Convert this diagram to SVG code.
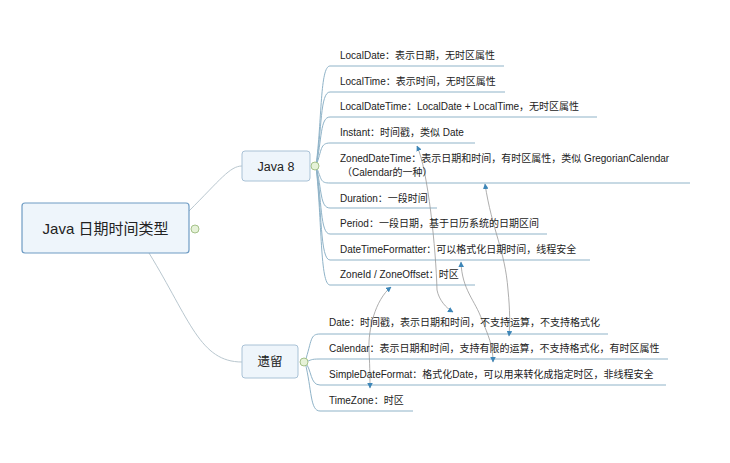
<svg xmlns="http://www.w3.org/2000/svg" width="730" height="463" viewBox="0 0 730 463">
<style>
text{font-family:"Liberation Sans","Noto Sans CJK SC",sans-serif;fill:#222}
.it{font-size:10px}
.br{fill:none;stroke:#8fb3c8;stroke-width:1}
.tr{fill:none;stroke:#b9c7cf;stroke-width:1}
.rel{fill:none;stroke:#999;stroke-width:0.8}
.box{fill:#eef5fb;stroke:#a9c2d6;stroke-width:1}
.knob{fill:#e6f2d8;stroke:#a5c28a;stroke-width:1}
</style>
<defs>
<marker id="ah" viewBox="0 0 10 10" refX="9" refY="5" markerWidth="7" markerHeight="7" orient="auto-start-reverse"><path d="M0,0L10,5L0,10z" fill="#3d86b8"/></marker>
</defs>
<rect width="730" height="463" fill="#fff"/>
<g id="connectors">
<path class="tr" d="M189,211 C220,180 230,166 242,166"/>
<path class="tr" d="M149,253 C190,320 200,362 242,362"/>
<g class="br">
<path d="M316,166 C322,120 320,66 330,66 H504"/>
<path d="M316,166 C322,130 320,92 330,92 H505"/>
<path d="M316,166 C322,140 320,117 330,117 H597"/>
<path d="M316,166 C322,150 320,143 330,143 H475"/>
<path d="M316,166 C322,180 320,183 330,183 H690"/>
<path d="M316,166 C322,190 320,208 330,208 H437"/>
<path d="M316,166 C322,200 320,234 330,234 H547"/>
<path d="M316,166 C322,210 320,260 330,260 H590"/>
<path d="M316,166 C322,220 320,285 330,285 H475"/>
<path d="M305,362 C312,340 310,334 320,334 H608"/>
<path d="M305,362 C312,360 310,359 320,359 H668"/>
<path d="M305,362 C312,370 310,385 320,385 H666"/>
<path d="M305,362 C312,390 310,411 320,411 H413"/>
</g>
<path class="rel" d="M417,146 C428,170 436,250 437,290 C439,300 446,308 453,312" marker-start="url(#ah)" marker-end="url(#ah)"/>
<path class="rel" d="M485,184 C492,230 505,250 508,290 C510,310 510,325 509,336" marker-start="url(#ah)" marker-end="url(#ah)"/>
<path class="rel" d="M461,262 C462,290 475,300 482,320 C488,335 493,345 493,362" marker-start="url(#ah)" marker-end="url(#ah)"/>
<path class="rel" d="M391,287 C375,300 368,330 369,350 C370,370 370,380 370,388" marker-start="url(#ah)" marker-end="url(#ah)"/>
</g>
<g id="root"><rect class="box" x="22" y="203" width="167" height="50" rx="3" style="stroke:#6f9cc4;stroke-width:1.2"/><text x="105.5" y="234" font-size="15" text-anchor="middle">Java 日期时间类型</text><circle class="knob" cx="195" cy="229" r="4"/></g>
<g id="java8"><rect class="box" x="242" y="151" width="68" height="30" rx="3"/><text x="276" y="171" font-size="12.5" text-anchor="middle">Java 8</text><circle class="knob" cx="315" cy="166" r="4"/></g>
<g id="legacy"><rect class="box" x="242" y="345" width="56" height="33" rx="3"/><text x="270" y="366" font-size="12.5" text-anchor="middle">遗留</text><circle class="knob" cx="304" cy="362" r="4"/></g>
<g id="j8items" class="it">
<text class="it" x="340" y="59">LocalDate：表示日期，无时区属性</text>
<text class="it" x="340" y="85">LocalTime：表示时间，无时区属性</text>
<text class="it" x="340" y="110">LocalDateTime：LocalDate + LocalTime，无时区属性</text>
<text class="it" x="340" y="136">Instant：时间戳，类似 Date</text>
<text class="it" x="340" y="162">ZonedDateTime：表示日期和时间，有时区属性，类似 GregorianCalendar</text>
<text class="it" x="342" y="176">（Calendar的一种）</text>
<text class="it" x="340" y="202">Duration：一段时间</text>
<text class="it" x="340" y="227">Period：一段日期，基于日历系统的日期区间</text>
<text class="it" x="340" y="253">DateTimeFormatter：可以格式化日期时间，线程安全</text>
<text class="it" x="340" y="278">ZoneId / ZoneOffset：时区</text>
</g>
<g id="legacyitems">
<text class="it" x="329" y="326">Date：时间戳，表示日期和时间，不支持运算，不支持格式化</text>
<text class="it" x="329" y="352">Calendar：表示日期和时间，支持有限的运算，不支持格式化，有时区属性</text>
<text class="it" x="329" y="378">SimpleDateFormat：格式化Date，可以用来转化成指定时区，非线程安全</text>
<text class="it" x="329" y="404">TimeZone：时区</text>
</g>
</svg>
